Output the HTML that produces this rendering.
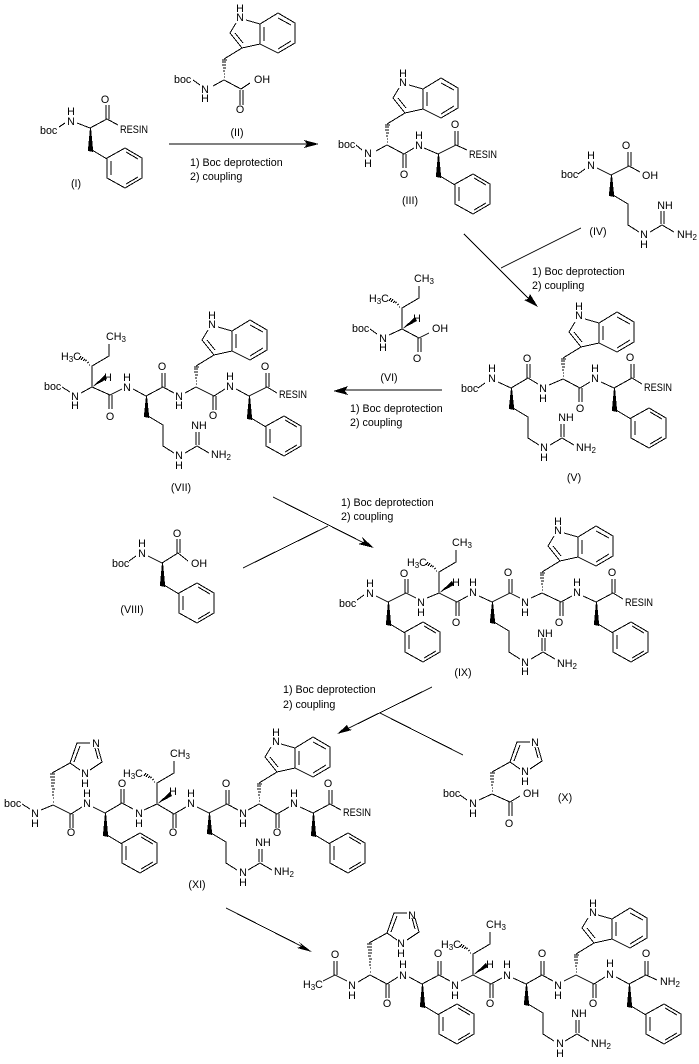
<!DOCTYPE html>
<html>
<head>
<meta charset="utf-8">
<title>Peptide synthesis scheme</title>
<style>
html,body{margin:0;padding:0;background:#fff}
svg{display:block}
text{font-family:"Liberation Sans",sans-serif;font-size:10.7px;fill:#000;text-anchor:middle}
text.s{text-anchor:start}
tspan.b{font-size:8px}
path,polyline,polygon.r{fill:none;stroke:#000;stroke-width:1;shape-rendering:crispEdges}
polygon.f{fill:#000;stroke:none;shape-rendering:crispEdges}
</style>
</head>
<body>
<svg xmlns="http://www.w3.org/2000/svg" width="699" height="1064" viewBox="0 0 699 1064">
<defs>
<g id="phe">
<polygon class="f" points="0,0 -2,21 -2,23 3,24 3,21 1,0"/>
<path d="M2 22L17 31"/>
<polygon class="r" points="17,30 35,20 52,30 52,50 35,60 17,50"/>
<path d="M21 33V47M36 24L48 31M48 49L36 56"/>
</g>
<g id="trp">
<path d="M0 -3h1M0 -6h1M-1 -9h2M-1 -12h3M-2 -15h4M-2 -18h4M-2 -20h5"/>
<path d="M0 -21L18 -32L6 -47L12 -57M19 -37L11 -47M18 -32L36 -36M22 -60L36 -56"/>
<polygon class="r" points="36,-36 36,-56 54,-67 71,-57 71,-37 54,-27"/>
<path d="M40 -39V-53M54 -62L67 -55M67 -39L54 -31"/>
</g>
<g id="arg">
<polygon class="f" points="0,0 -2,19 -2,21 3,22 3,19 1,0"/>
<path d="M2 20L17 29V50L28 57M39 57L51 50L63 57M50 49V36M53 49V36"/>
</g>
<g id="ile">
<path d="M0 0V-21L17 -31V-43"/>
<polygon class="f" points="0,0 13,-12 15,-8"/>
<path d="M-3 -22h1M-5 -24l2 -1M-7 -26l2 -1M-9 -26l2 -2M-11 -27l2 -3M-13 -28l2 -3"/>
</g>
<g id="hisring">
<path d="M0 0L18 -10L25 -30H38M46 -25L50 -11L38 -3M18 -10L28 -3M22 -11L28 -27M43 -25L46 -14"/>
</g>
<g id="hashlong">
<path d="M0 -3h1M0 -7h1M-1 -10h2M-1 -13h2M-1 -16h3M-2 -19h3M-2 -22h4M-2 -25h4M-3 -28h5M-3 -31h5"/>
</g>
</defs>

<!-- arrows -->
<path d="M169 144H310M464 234L530 300M581 228L501 268M442 390H340M273 497L368 545M243 568L328 526M432 687L345 730M380 713L463 755M226 908L305 948"/>
<polygon class="f" points="304,140 319,144 304,148 307,144"/>
<polygon class="f" points="538,307 524,300 528,299 530,294"/>
<polygon class="f" points="333,391 348,386 345,391 348,395"/>
<polygon class="f" points="374,548 362,537 364,542 358,544"/>
<polygon class="f" points="337,734 347,725 349,729 352,730"/>
<polygon class="f" points="312,952 299,942 302,946 297,948"/>
<text class="s" x="190" y="166">1) Boc deprotection</text>
<text class="s" x="190" y="180">2) coupling</text>
<text class="s" x="532" y="275">1) Boc deprotection</text>
<text class="s" x="532" y="289">2) coupling</text>
<text class="s" x="350" y="412">1) Boc deprotection</text>
<text class="s" x="350" y="426">2) coupling</text>
<text class="s" x="341" y="506">1) Boc deprotection</text>
<text class="s" x="341" y="520">2) coupling</text>
<text class="s" x="283" y="693">1) Boc deprotection</text>
<text class="s" x="283" y="708">2) coupling</text>

<!-- I -->
<path d="M59 127L65 123M77 123L90 128L107 119M106 119V105M109 119V105M107 119L118 125"/>
<use href="#phe" x="90" y="128"/>
<text class="s" x="40" y="134">boc</text><text x="71" y="125">N</text><text x="71" y="115">H</text>
<text x="105" y="103">O</text><text class="s" x="120" y="133" textLength="28" lengthAdjust="spacingAndGlyphs">RESIN</text><text x="76" y="187">(I)</text>

<!-- II -->
<use href="#trp" x="224" y="80"/>
<path d="M193 80L200 85M213 86L224 80L241 89M240 90V105M243 90V105M241 89L250 83"/>
<text class="s" x="174" y="83">boc</text><text x="205" y="93">N</text><text x="205" y="102">H</text>
<text class="s" x="254" y="83">OH</text><text x="240" y="113">O</text>
<text x="240" y="21">N</text><text x="240" y="12">H</text><text x="237" y="136">(II)</text>

<!-- III -->
<use href="#trp" x="387" y="145"/><use href="#phe" x="438" y="154"/>
<path d="M356 145L362 150M376 151L387 145L404 154M403 154V168M406 154V168M404 154L414 148M424 148L438 154L456 145M455 145V131M458 145V131M456 145L467 150"/>
<text class="s" x="338" y="148">boc</text><text x="368" y="157">N</text><text x="368" y="167">H</text>
<text x="404" y="178">O</text><text x="419" y="149">N</text><text x="419" y="139">H</text>
<text x="455" y="128">O</text><text class="s" x="469" y="158" textLength="28" lengthAdjust="spacingAndGlyphs">RESIN</text>
<text x="403" y="86">N</text><text x="403" y="77">H</text><text x="410" y="204">(III)</text>

<!-- IV -->
<use href="#arg" x="611" y="175"/>
<path d="M578 174L585 169M597 168L611 175L629 166M628 166V152M631 166V152M629 166L640 172"/>
<text class="s" x="561" y="178">boc</text><text x="591" y="169">N</text><text x="591" y="159">H</text>
<text x="626" y="149">O</text><text class="s" x="642" y="179">OH</text>
<text x="644" y="238">N</text><text x="644" y="248">H</text><text x="665" y="209">NH</text>
<text class="s" x="677" y="238">NH<tspan class="b" dy="2">2</tspan></text><text x="598" y="235">(IV)</text>

<!-- V -->
<use href="#arg" x="511" y="388"/><use href="#trp" x="563" y="379"/><use href="#phe" x="614" y="388"/>
<path d="M478 388L485 383M498 382L511 388L528 378M527 378V364M530 378V364M528 378L538 384M549 385L563 379L580 388M579 388V402M582 388V402M580 388L590 382M601 382L614 388L632 378M631 378V364M634 378V364M632 378L642 384"/>
<text class="s" x="461" y="392">boc</text><text x="492" y="382">N</text><text x="492" y="372">H</text>
<text x="527" y="362">O</text><text x="543" y="392">N</text><text x="543" y="402">H</text>
<text x="580" y="412">O</text><text x="595" y="382">N</text><text x="595" y="372">H</text>
<text x="630" y="361">O</text><text class="s" x="644" y="391" textLength="28" lengthAdjust="spacingAndGlyphs">RESIN</text>
<text x="544" y="451">N</text><text x="544" y="461">H</text><text x="566" y="421">NH</text>
<text class="s" x="576" y="451">NH<tspan class="b" dy="2">2</tspan></text>
<text x="579" y="319">N</text><text x="579" y="310">H</text><text x="574" y="481">(V)</text>

<!-- VI -->
<use href="#ile" x="402" y="329"/>
<path d="M370 329L377 334M389 335L402 329L419 338M418 338V352M421 338V352M419 338L429 333"/>
<text class="s" x="352" y="332">boc</text><text x="383" y="342">N</text><text x="383" y="351">H</text>
<text x="417" y="362">O</text><text class="s" x="432" y="332">OH</text><text x="417" y="322">H</text>
<text class="s" x="414" y="282">CH<tspan class="b" dy="2">3</tspan></text>
<text class="s" x="369" y="302">H<tspan class="b" dy="2">3</tspan><tspan dy="-2">C</tspan></text>
<text x="389" y="381">(VI)</text>

<!-- VII -->
<use href="#ile" x="92" y="387"/><use href="#arg" x="146" y="396"/><use href="#trp" x="196" y="387"/><use href="#phe" x="249" y="396"/>
<path d="M62 387L70 392M81 393L92 387L110 395M109 395V409M112 395V409M110 395L122 389M133 389L146 396L163 387M162 387V373M165 387V373M163 387L174 393M185 393L196 387L214 396M213 396V410M216 396V410M214 396L225 389M236 389L249 396L267 387M266 387V373M269 387V373M267 387L277 393"/>
<text class="s" x="44" y="390">boc</text><text x="75" y="400">N</text><text x="75" y="409">H</text>
<text x="110" y="420">O</text><text x="127" y="391">N</text><text x="127" y="381">H</text>
<text x="162" y="370">O</text><text x="179" y="400">N</text><text x="179" y="409">H</text>
<text x="213" y="419">O</text><text x="230" y="390">N</text><text x="230" y="380">H</text>
<text x="265" y="370">O</text><text class="s" x="279" y="398" textLength="28" lengthAdjust="spacingAndGlyphs">RESIN</text>
<text x="108" y="381">H</text>
<text class="s" x="106" y="340">CH<tspan class="b" dy="2">3</tspan></text>
<text class="s" x="61" y="360">H<tspan class="b" dy="2">3</tspan><tspan dy="-2">C</tspan></text>
<text x="179" y="459">N</text><text x="179" y="469">H</text><text x="199" y="429">NH</text>
<text class="s" x="211" y="458">NH<tspan class="b" dy="2">2</tspan></text>
<text x="212" y="328">N</text><text x="212" y="319">H</text><text x="181" y="491">(VII)</text>

<!-- VIII -->
<use href="#phe" x="162" y="563"/>
<path d="M129 561L136 556M148 556L162 563L178 553M177 553V539M180 553V539M178 553L188 561"/>
<text class="s" x="112" y="567">boc</text><text x="142" y="557">N</text><text x="142" y="547">H</text>
<text x="177" y="537">O</text><text class="s" x="191" y="567">OH</text><text x="132" y="613">(VIII)</text>

<!-- IX -->
<use href="#phe" x="388" y="602"/><use href="#ile" x="439" y="593"/><use href="#arg" x="492" y="602"/><use href="#trp" x="542" y="593"/><use href="#phe" x="596" y="602"/>
<path d="M357 600L364 595M376 596L388 602L406 593M405 593V579M408 593V579M406 593L416 598M427 598L439 593L457 602M456 602V616M459 602V616M457 602L468 596M479 596L492 602L510 593M509 593V579M512 593V579M510 593L520 598M531 598L542 593L561 602M560 602V616M563 602V616M561 602L572 596M583 596L596 602L613 593M612 593V579M615 593V579M613 593L623 599"/>
<text class="s" x="339" y="607">boc</text><text x="370" y="597">N</text><text x="370" y="587">H</text>
<text x="404" y="577">O</text><text x="421" y="606">N</text><text x="421" y="616">H</text>
<text x="456" y="626">O</text><text x="473" y="596">N</text><text x="473" y="586">H</text>
<text x="508" y="576">O</text><text x="525" y="606">N</text><text x="525" y="616">H</text>
<text x="559" y="626">O</text><text x="577" y="596">N</text><text x="577" y="586">H</text>
<text x="612" y="576">O</text><text class="s" x="625" y="606" textLength="28" lengthAdjust="spacingAndGlyphs">RESIN</text>
<text x="456" y="586">H</text>
<text class="s" x="452" y="546">CH<tspan class="b" dy="2">3</tspan></text>
<text class="s" x="407" y="566">H<tspan class="b" dy="2">3</tspan><tspan dy="-2">C</tspan></text>
<text x="525" y="666">N</text><text x="525" y="675">H</text><text x="545" y="637">NH</text>
<text class="s" x="557" y="667">NH<tspan class="b" dy="2">2</tspan></text>
<text x="558" y="534">N</text><text x="558" y="525">H</text><text x="463" y="676">(IX)</text>

<!-- X -->
<path d="M492 791h1M492 788h1M491 785h2M491 782h3M490 779h4M490 776h4M490 773h5"/>
<use href="#hisring" x="492" y="772"/>
<path d="M460 795L467 800M479 800L492 794L510 802M509 802V816M512 802V816M510 802L520 796"/>
<text class="s" x="443" y="797">boc</text><text x="473" y="807">N</text><text x="473" y="817">H</text>
<text x="509" y="827">O</text><text class="s" x="523" y="797">OH</text>
<text x="535" y="746">N</text><text x="525" y="775">N</text><text x="525" y="785">H</text><text x="565" y="801">(X)</text>

<!-- XI -->
<use href="#hashlong" x="53" y="805"/><use href="#hisring" x="52" y="773"/>
<use href="#phe" x="105" y="813"/><use href="#ile" x="157" y="804"/><use href="#arg" x="209" y="813"/><use href="#trp" x="259" y="804"/><use href="#phe" x="313" y="813"/>
<path d="M22 804L30 809M41 810L53 805L71 814M70 814V828M73 814V828M71 814L82 807M93 807L105 813L122 803M121 803V789M124 803V789M122 803L133 809M144 810L157 804L174 814M173 814V828M176 814V828M174 814L186 807M197 807L209 813L227 804M226 804V790M229 804V790M227 804L238 810M248 810L259 804L277 814M276 814V828M279 814V828M277 814L289 807M300 807L313 813L330 804M329 804V790M332 804V790M330 804L341 810"/>
<text class="s" x="4" y="807">boc</text><text x="35" y="817">N</text><text x="35" y="827">H</text>
<text x="71" y="836">O</text><text x="87" y="807">N</text><text x="87" y="797">H</text>
<text x="122" y="787">O</text><text x="139" y="817">N</text><text x="139" y="827">H</text>
<text x="173" y="836">O</text><text x="191" y="807">N</text><text x="191" y="797">H</text>
<text x="226" y="787">O</text><text x="243" y="817">N</text><text x="243" y="827">H</text>
<text x="277" y="836">O</text><text x="294" y="807">N</text><text x="294" y="797">H</text>
<text x="328" y="787">O</text><text class="s" x="343" y="816" textLength="28" lengthAdjust="spacingAndGlyphs">RESIN</text>
<text x="96" y="747">N</text><text x="85" y="777">N</text><text x="85" y="787">H</text>
<text x="173" y="795">H</text>
<text class="s" x="170" y="757">CH<tspan class="b" dy="2">3</tspan></text>
<text class="s" x="123" y="777">H<tspan class="b" dy="2">3</tspan><tspan dy="-2">C</tspan></text>
<text x="243" y="876">N</text><text x="243" y="886">H</text><text x="263" y="846">NH</text>
<text class="s" x="274" y="875">NH<tspan class="b" dy="2">2</tspan></text>
<text x="276" y="745">N</text><text x="276" y="736">H</text><text x="197" y="888">(XI)</text>

<!-- final -->
<use href="#hashlong" x="370" y="975"/><use href="#hisring" x="369" y="943"/>
<use href="#phe" x="422" y="984"/><use href="#ile" x="473" y="975"/><use href="#arg" x="526" y="984"/><use href="#trp" x="576" y="975"/><use href="#phe" x="629" y="984"/>
<path d="M323 981L335 975M334 975V961M337 975V961M335 975L347 981M358 982L370 975L387 984M386 984V998M389 984V998M387 984L398 977M409 977L422 984L439 975M438 975V961M441 975V961M439 975L450 981M461 981L473 975L491 984M490 984V998M493 984V998M491 984L502 978M513 978L526 984L542 975M541 975V961M544 975V961M542 975L553 981M564 981L576 975L594 984M593 984V998M596 984V998M594 984L605 977M616 977L629 984L646 975M645 975V961M648 975V961M646 975L657 980"/>
<text class="s" x="303" y="988">H<tspan class="b" dy="2">3</tspan><tspan dy="-2">C</tspan></text>
<text x="335" y="958">O</text><text x="352" y="989">N</text><text x="352" y="999">H</text>
<text x="387" y="1007">O</text><text x="403" y="979">N</text><text x="403" y="968">H</text>
<text x="438" y="957">O</text><text x="455" y="989">N</text><text x="455" y="999">H</text>
<text x="490" y="1007">O</text><text x="507" y="979">N</text><text x="507" y="968">H</text>
<text x="542" y="957">O</text><text x="558" y="989">N</text><text x="558" y="999">H</text>
<text x="593" y="1007">O</text><text x="610" y="978">N</text><text x="610" y="967">H</text>
<text x="646" y="957">O</text><text class="s" x="660" y="985">NH<tspan class="b" dy="2">2</tspan></text>
<text x="490" y="968">H</text>
<text class="s" x="486" y="928">CH<tspan class="b" dy="2">3</tspan></text>
<text class="s" x="441" y="948">H<tspan class="b" dy="2">3</tspan><tspan dy="-2">C</tspan></text>
<text x="412" y="919">N</text><text x="401" y="947">N</text><text x="401" y="957">H</text>
<text x="560" y="1047">N</text><text x="560" y="1057">H</text><text x="579" y="1017">NH</text>
<text class="s" x="591" y="1047">NH<tspan class="b" dy="2">2</tspan></text>
<text x="593" y="916">N</text><text x="593" y="907">H</text>
</svg>
</body>
</html>
